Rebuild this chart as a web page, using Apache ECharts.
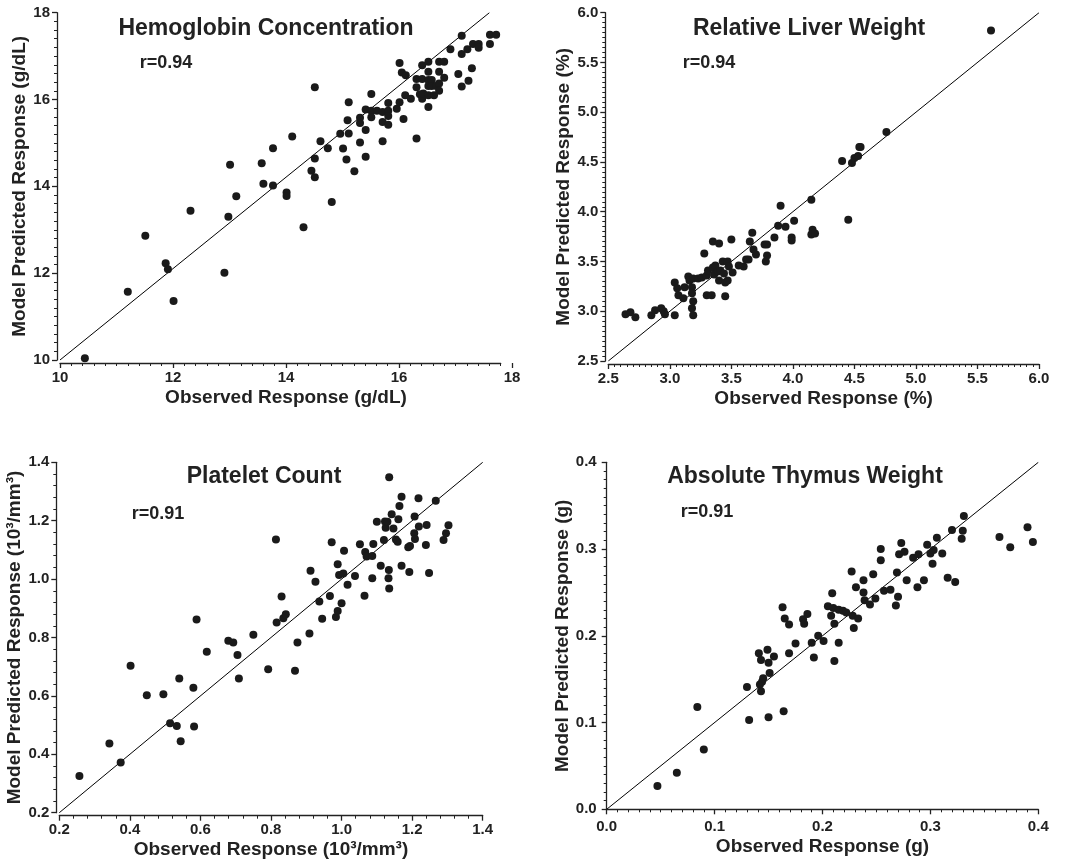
<!DOCTYPE html>
<html><head><meta charset="utf-8">
<script src="https://cdn.jsdelivr.net/npm/echarts@6/dist/echarts.min.js"></script>
<style>html,body{margin:0;background:#fff}#c{width:1073px;height:864px}</style>
</head><body><div id="c"></div><script>
const FONT = '"Liberation Sans", Arial, sans-serif';
const INK = '#222';

// [observed, predicted]
const hgb = [[10.44,10.04],[11.20,11.57],[11.51,12.86],[11.87,12.23],[11.91,12.09],[12.01,11.36],[12.31,13.44],[12.91,12.01],[12.98,13.30],[13.01,14.50],[13.12,13.77],[13.57,14.53],[13.60,14.06],[13.77,14.88],[13.77,14.02],[14.01,13.86],[14.01,13.78],[14.11,15.15],[14.31,13.06],[14.45,14.36],[14.51,16.28],[14.51,14.64],[14.51,14.21],[14.61,15.04],[14.74,14.88],[14.81,13.64],[14.96,15.21],[15.01,14.87],[15.07,14.62],[15.09,15.52],[15.11,15.22],[15.11,15.94],[15.21,14.35],[15.31,15.58],[15.31,15.46],[15.31,15.01],[15.41,15.77],[15.41,15.30],[15.41,14.68],[15.51,16.13],[15.51,15.74],[15.51,15.59],[15.61,15.74],[15.71,15.71],[15.71,15.48],[15.71,15.04],[15.81,15.92],[15.81,15.74],[15.81,15.62],[15.81,15.42],[15.96,15.79],[16.01,16.84],[16.01,15.94],[16.05,16.62],[16.08,15.55],[16.11,16.10],[16.12,16.56],[16.21,16.02],[16.31,16.47],[16.31,16.28],[16.31,15.10],[16.37,16.12],[16.41,16.79],[16.41,16.47],[16.41,16.02],[16.43,16.14],[16.52,16.87],[16.52,16.64],[16.52,16.45],[16.52,16.31],[16.52,16.10],[16.52,15.83],[16.58,16.45],[16.58,16.31],[16.62,16.10],[16.66,16.31],[16.71,16.87],[16.71,16.64],[16.71,16.37],[16.71,16.20],[16.80,16.87],[16.80,16.50],[16.91,17.16],[17.05,16.59],[17.11,17.47],[17.11,17.05],[17.11,16.30],[17.21,17.16],[17.23,16.43],[17.29,16.72],[17.31,17.28],[17.41,17.28],[17.41,17.19],[17.61,17.28],[17.61,17.49],[17.72,17.49]];
const hgbLine = [[10,10],[17.6,18]];

const liver = [[2.64,2.97],[2.68,2.99],[2.72,2.94],[2.85,2.96],[2.88,3.01],[2.93,3.03],[2.95,3.00],[2.96,2.97],[3.04,3.29],[3.04,2.96],[3.06,3.23],[3.07,3.16],[3.11,3.13],[3.12,3.24],[3.15,3.35],[3.16,3.31],[3.18,3.24],[3.18,3.18],[3.19,3.10],[3.18,3.03],[3.19,2.96],[3.19,3.33],[3.23,3.33],[3.26,3.34],[3.28,3.58],[3.30,3.36],[3.30,3.16],[3.31,3.41],[3.34,3.16],[3.35,3.70],[3.35,3.44],[3.36,3.37],[3.37,3.46],[3.39,3.40],[3.40,3.68],[3.40,3.31],[3.41,3.41],[3.43,3.50],[3.44,3.38],[3.45,3.15],[3.45,3.29],[3.47,3.50],[3.47,3.31],[3.48,3.45],[3.50,3.72],[3.51,3.39],[3.56,3.46],[3.60,3.45],[3.62,3.52],[3.64,3.52],[3.65,3.70],[3.67,3.79],[3.68,3.62],[3.70,3.57],[3.77,3.67],[3.78,3.50],[3.79,3.56],[3.79,3.67],[3.85,3.74],[3.88,3.86],[3.90,4.06],[3.94,3.85],[3.99,3.74],[3.99,3.71],[4.01,3.91],[4.15,4.12],[4.15,3.77],[4.16,3.82],[4.18,3.78],[4.40,4.51],[4.45,3.92],[4.48,4.49],[4.50,4.54],[4.53,4.56],[4.54,4.65],[4.55,4.65],[4.76,4.80],[5.61,5.82]];
const liverLine = [[2.5,2.5],[6,6]];

const plt = [[0.257,0.326],[0.342,0.437],[0.374,0.372],[0.402,0.703],[0.448,0.602],[0.495,0.606],[0.514,0.506],[0.533,0.497],[0.540,0.660],[0.544,0.445],[0.580,0.628],[0.582,0.495],[0.589,0.862],[0.618,0.751],[0.679,0.789],[0.693,0.783],[0.705,0.740],[0.709,0.660],[0.750,0.809],[0.792,0.691],[0.814,1.136],[0.816,0.851],[0.830,0.940],[0.835,0.866],[0.842,0.880],[0.868,0.686],[0.875,0.783],[0.909,0.814],[0.912,1.029],[0.926,0.991],[0.937,0.923],[0.945,0.864],[0.967,0.942],[0.972,1.126],[0.984,0.870],[0.989,0.891],[0.989,1.051],[0.993,1.014],[1.000,0.917],[1.005,1.019],[1.007,1.097],[1.017,0.981],[1.038,1.011],[1.052,1.119],[1.065,0.943],[1.067,1.093],[1.071,1.077],[1.087,1.079],[1.087,1.003],[1.090,1.120],[1.100,1.196],[1.111,1.046],[1.120,1.134],[1.123,1.197],[1.125,1.176],[1.130,1.196],[1.133,1.003],[1.134,1.031],[1.135,0.968],[1.135,1.349],[1.142,1.222],[1.147,1.173],[1.154,1.136],[1.159,1.128],[1.161,1.205],[1.164,1.250],[1.170,1.046],[1.170,1.282],[1.189,1.109],[1.192,1.024],[1.194,1.113],[1.206,1.157],[1.207,1.214],[1.208,1.137],[1.218,1.277],[1.219,1.180],[1.239,1.117],[1.241,1.185],[1.248,1.021],[1.267,1.268],[1.289,1.134],[1.296,1.157],[1.303,1.184]];
const pltLine = [[0.2,0.2],[1.4,1.4]];

const thy = [[0.047,0.027],[0.065,0.042],[0.084,0.118],[0.090,0.069],[0.130,0.141],[0.132,0.103],[0.141,0.180],[0.142,0.144],[0.143,0.136],[0.143,0.172],[0.144,0.147],[0.145,0.151],[0.149,0.184],[0.150,0.169],[0.150,0.106],[0.151,0.157],[0.155,0.176],[0.163,0.233],[0.164,0.113],[0.165,0.220],[0.169,0.213],[0.169,0.180],[0.175,0.191],[0.182,0.219],[0.183,0.214],[0.186,0.225],[0.190,0.192],[0.192,0.175],[0.196,0.200],[0.201,0.194],[0.205,0.234],[0.208,0.223],[0.209,0.249],[0.210,0.232],[0.211,0.171],[0.211,0.214],[0.215,0.230],[0.215,0.192],[0.219,0.229],[0.222,0.227],[0.227,0.274],[0.228,0.223],[0.229,0.209],[0.231,0.256],[0.233,0.220],[0.238,0.264],[0.238,0.250],[0.239,0.241],[0.244,0.236],[0.247,0.271],[0.249,0.243],[0.254,0.300],[0.254,0.287],[0.257,0.252],[0.263,0.253],[0.268,0.235],[0.269,0.273],[0.270,0.245],[0.271,0.294],[0.273,0.307],[0.276,0.297],[0.278,0.264],[0.284,0.290],[0.288,0.256],[0.289,0.294],[0.294,0.264],[0.297,0.305],[0.300,0.295],[0.302,0.283],[0.303,0.299],[0.306,0.313],[0.311,0.295],[0.316,0.267],[0.320,0.322],[0.323,0.262],[0.329,0.312],[0.330,0.321],[0.331,0.338],[0.364,0.314],[0.374,0.302],[0.390,0.325],[0.395,0.308]];
const thyLine = [[0,0],[0.4,0.4]];

const titles = ['Hemoglobin Concentration','Relative Liver Weight','Platelet Count','Absolute Thymus Weight'];
const rLabels = ['r=0.94','r=0.94','r=0.91','r=0.91'];
const xNames = ['Observed Response (g/dL)','Observed Response (%)','Observed Response (10³/mm³)','Observed Response (g)'];
const yNames = ['Model Predicted Response (g/dL)','Model Predicted Response (%)','Model Predicted Response (10³/mm³)','Model Predicted Response (g)'];

const labelStyle = {color: INK, fontSize: 15, fontWeight: 'bold', fontFamily: FONT};
const nameStyle = {color: INK, fontSize: 19, fontWeight: 'bold', fontFamily: FONT};
const lineSty = {color: INK, width: 1.3};

function axis(gi, min, max, interval, name, nameGap, fmt, minorSplit, extra) {
  return Object.assign({
    type: 'value', gridIndex: gi, min, max, interval, offset: 3,
    name, nameLocation: 'middle', nameGap, nameTextStyle: nameStyle,
    axisLine: {show: true, lineStyle: lineSty},
    axisTick: {show: true, length: 5, lineStyle: lineSty},
    minorTick: {show: minorSplit > 0, splitNumber: minorSplit || 5, length: 3, lineStyle: {color: INK, width: 1}},
    splitLine: {show: false}, minorSplitLine: {show: false},
    axisLabel: Object.assign({margin: 7, formatter: fmt}, labelStyle)
  }, extra || {});
}
const f0 = v => String(Math.round(v));
const f1 = v => v.toFixed(1);

const grids = [
  {left: 60, top: 12.7, width: 452, height: 347.3},
  {left: 60, top: 12.7, width: 440.7, height: 347.3},
  {left: 608.3, top: 12.7, width: 430.7, height: 348.3},
  {left: 59.3, top: 462.3, width: 423.4, height: 350.4},
  {left: 606.7, top: 462.3, width: 431.6, height: 347}
];

const xAxes = [
  axis(0, 10, 18, 2, xNames[0], 25, f0, 0, {axisLine: {show: false}}),
  axis(1, 10, 17.8, 0.2, '', 25, f0, 0, {axisLabel: {show: false}, axisTick: {show: true, length: 3, lineStyle: {color: INK, width: 1}}}),
  axis(2, 2.5, 6.0, 0.5, xNames[1], 25, f1, 10),
  axis(3, 0.2, 1.4, 0.2, xNames[2], 25, f1, 5),
  axis(4, 0, 0.4, 0.1, xNames[3], 25, f1, 10)
];
const yAxes = [
  axis(0, 10, 18, 2, yNames[0], 24, f0, 10),
  {type: 'value', gridIndex: 1, min: 10, max: 18, show: false},
  axis(2, 2.5, 6.0, 0.5, yNames[1], 30, f1, 10),
  axis(3, 0.2, 1.4, 0.2, yNames[2], 29, f1, 5),
  axis(4, 0, 0.4, 0.1, yNames[3], 29, f1, 10)
];

const panels = [
  {g: 0, pts: hgb, line: hgbLine},
  {g: 2, pts: liver, line: liverLine},
  {g: 3, pts: plt, line: pltLine},
  {g: 4, pts: thy, line: thyLine}
];
const series = [];
panels.forEach(p => {
  series.push({type: 'line', xAxisIndex: p.g, yAxisIndex: p.g, data: p.line, showSymbol: false, symbol: 'none',
    lineStyle: {color: '#000', width: 1}, silent: true, z: 1});
  series.push({type: 'scatter', xAxisIndex: p.g, yAxisIndex: p.g, data: p.pts, symbolSize: 8,
    itemStyle: {color: '#1a1a1a', opacity: 1}, silent: true, z: 2});
});

const titlePos = [[266, 29], [809, 29], [264, 477], [805, 477]];
const rPos = [[166, 63], [709, 63], [158, 514], [707, 512]];
const title = [];
titles.forEach((t, i) => {
  title.push({text: t, left: titlePos[i][0], top: titlePos[i][1], textAlign: 'center', textVerticalAlign: 'middle', padding: 0,
    textStyle: {color: INK, fontSize: 23, fontWeight: 'bold', fontFamily: FONT}});
  title.push({text: rLabels[i], left: rPos[i][0], top: rPos[i][1], textAlign: 'center', textVerticalAlign: 'middle', padding: 0,
    textStyle: {color: INK, fontSize: 18, fontWeight: 'bold', fontFamily: FONT}});
});

const chart = echarts.init(document.getElementById('c'));
chart.setOption({
  animation: false, backgroundColor: '#fff',
  title, grid: grids, xAxis: xAxes, yAxis: yAxes, series
});
</script></body></html>
